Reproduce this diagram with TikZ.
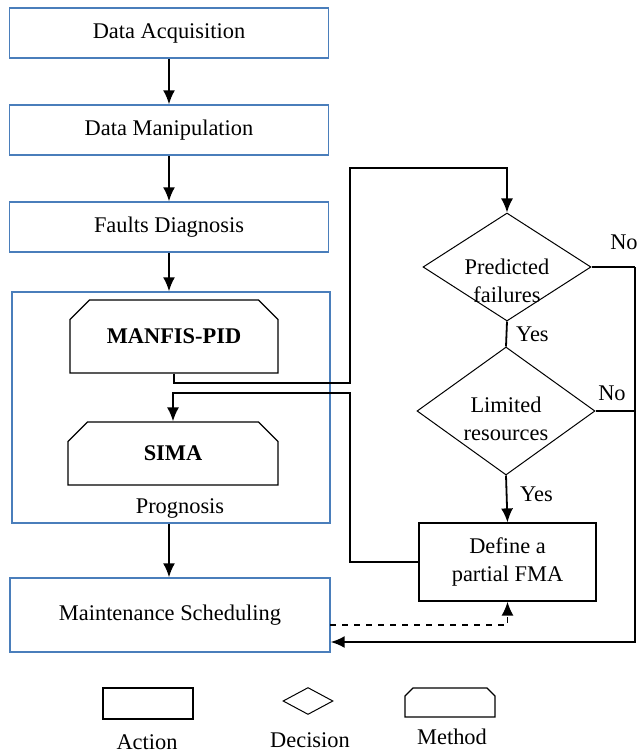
\documentclass[tikz,border=0pt]{standalone}
\usepackage{fontspec}
\setmainfont{Liberation Serif}
\usetikzlibrary{arrows.meta,shapes.geometric,shapes.misc}
\definecolor{boxblue}{RGB}{74,126,187}
\begin{document}
\begin{tikzpicture}[x=0.5pt, y=-0.5pt, >={Latex[length=7pt,width=6pt]},
	font=\fontsize{11.2}{14}\selectfont,
	actionbox/.style={draw=boxblue, line width=0.7pt, minimum width=159.5pt, minimum height=25pt, inner sep=0pt},
	methodbox/.style={draw, line width=0.6pt, chamfered rectangle, chamfered rectangle corners={north west,north east}, chamfered rectangle xsep=6pt, chamfered rectangle ysep=6pt, inner sep=0pt, font=\fontsize{11.2}{14}\selectfont\bfseries},
	decision/.style={draw, line width=0.5pt, diamond, inner sep=0pt},
	plainbox/.style={draw, line width=0.6pt, inner sep=0pt},
	link/.style={line width=0.9pt}]
	\useasboundingbox (0,0) rectangle (637,754);
	% main chain
	\node[actionbox] (acq) at (169,33) {Data Acquisition};
	\node[actionbox] (manip) at (169,130) {Data Manipulation};
	\node[actionbox] (diag) at (169,227) {Faults Diagnosis};
	\node[actionbox, minimum width=159pt, minimum height=115.5pt] (prog) at (171,407.5) {};
	\node (progtxt) at (180,508) {Prognosis};
	\node[methodbox, minimum width=104pt, minimum height=36.5pt] (manfis) at (174,336.5) {MANFIS-PID};
	\node[methodbox, minimum width=105pt, minimum height=31.5pt] (sima) at (173,453.5) {SIMA};
	\node[actionbox, minimum width=160pt, minimum height=37pt] (sched) at (170,615) {Maintenance Scheduling};
	\draw[link,->] (acq) -- (manip);
	\draw[link,->] (manip) -- (diag);
	\draw[link,->] (diag.south) -- (diag.south |- prog.north);
	\draw[link,->] (diag.south |- prog.south) -- (diag.south |- sched.north);
	% decisions
	\node[decision, minimum width=84pt, minimum height=54pt] (pred) at (507,267) {};
	\node[align=center] (predtxt) at (507,281) {Predicted\\failures};
	\node[decision, minimum width=89pt, minimum height=64pt] (lim) at (506,411) {};
	\node[align=center] (limtxt) at (506,419) {Limited\\resources};
	\node[plainbox, minimum width=88.5pt, minimum height=39pt, align=center] (fma) at (507.5,562) {Define a\\partial FMA};
	\coordinate (up1) at (350,383);
	\coordinate (up2) at (350,168);
	\coordinate (back1) at (350,393);
	\coordinate (no1) at (635,267);
	\coordinate (no2) at (635,411);
	\coordinate (ret) at (635,642);
	\coordinate (dash) at (330,625);
	\draw[link,->] (manfis.south) |- (up1) -- (up2) -| (pred.north);
	\draw[link,->] (fma.west) -| (back1) -| (sima.north);
	\draw[link] (pred.south) -- (lim.north) node[pos=0.5, right=1pt] {Yes};
	\draw[link,->] (lim.south) -- (fma.north) node[pos=0.4, right=3pt] {Yes};
	\draw[link] (pred.east) -- (no1);
	\draw[link] (lim.east) -- (no2);
	\draw[link,->] (no1) -- (ret) -- (sched.east |- ret);
	\draw[link,dashed,->] (dash) -| (fma.south);
	\node (nofirst) at (624,242) {No};
	\node (nosecond) at (612,393) {No};
	% legend
	\node[plainbox, minimum width=45pt, minimum height=15.5pt] (legact) at (148,703.5) {};
	\node (legacttxt) at (147,742) {Action};
	\node[decision, minimum width=25pt, minimum height=13.5pt] (legdec) at (308,701) {};
	\node (legdectxt) at (310,740) {Decision};
	\node[methodbox, chamfered rectangle xsep=4pt, chamfered rectangle ysep=4pt, minimum width=45pt, minimum height=14.5pt] (legmeth) at (450,702.5) {\strut};
	\node (legmethtxt) at (452,737) {Method};
\end{tikzpicture}
\end{document}
